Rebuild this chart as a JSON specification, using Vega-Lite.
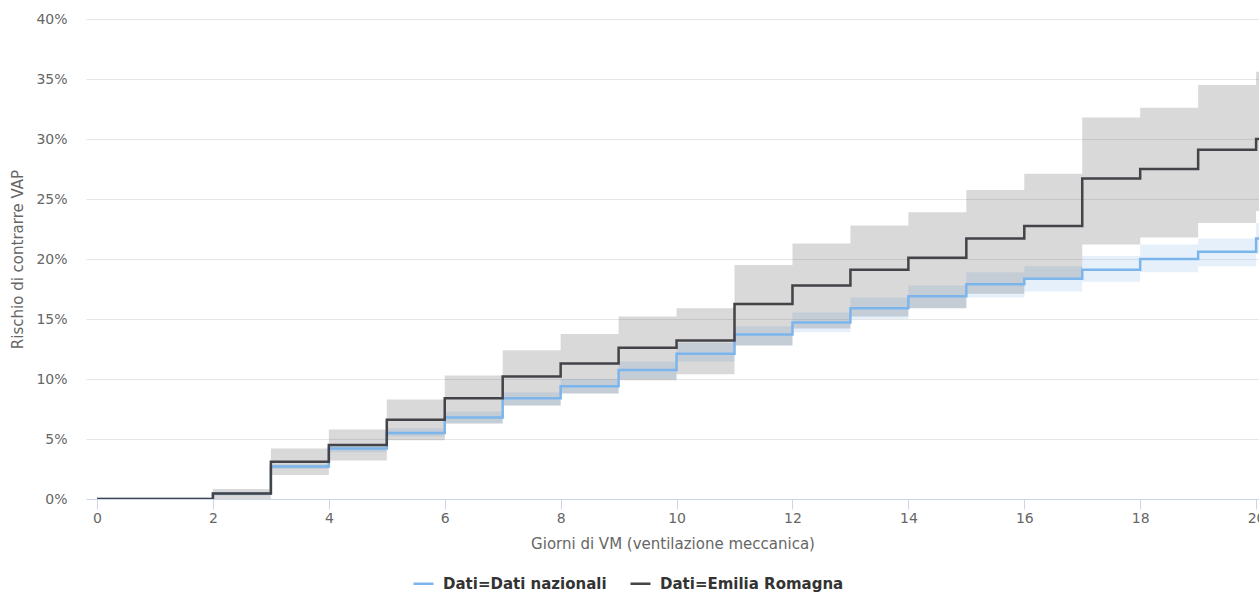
{
  "$schema": "https://vega.github.io/schema/vega-lite/v6.json",
  "width": 1173,
  "height": 480,
  "autosize": {"type": "none"},
  "padding": {"left": 86, "top": 19, "right": 0, "bottom": 94},
  "background": "white",
  "config": {
    "font": "DejaVu Sans",
    "view": {"stroke": null},
    "axis": {"labelFont": "DejaVu Sans", "titleFont": "DejaVu Sans", "labelColor": "#666666", "titleColor": "#666666", "labelFontSize": 14, "titleFontSize": 15, "titleFontWeight": "normal"}
  },
  "data": {"values": [
    {"Dati": "Dati nazionali", "giorno": 0, "rischio": 0, "lo": 0, "hi": 0},
    {"Dati": "Dati nazionali", "giorno": 1, "rischio": 0, "lo": 0, "hi": 0},
    {"Dati": "Dati nazionali", "giorno": 2, "rischio": 0.0045, "lo": 0.003, "hi": 0.006},
    {"Dati": "Dati nazionali", "giorno": 3, "rischio": 0.027, "lo": 0.025, "hi": 0.029},
    {"Dati": "Dati nazionali", "giorno": 4, "rischio": 0.042, "lo": 0.039, "hi": 0.045},
    {"Dati": "Dati nazionali", "giorno": 5, "rischio": 0.055, "lo": 0.052, "hi": 0.059},
    {"Dati": "Dati nazionali", "giorno": 6, "rischio": 0.068, "lo": 0.063, "hi": 0.073},
    {"Dati": "Dati nazionali", "giorno": 7, "rischio": 0.084, "lo": 0.078, "hi": 0.089},
    {"Dati": "Dati nazionali", "giorno": 8, "rischio": 0.094, "lo": 0.088, "hi": 0.100},
    {"Dati": "Dati nazionali", "giorno": 9, "rischio": 0.1075, "lo": 0.100, "hi": 0.1145},
    {"Dati": "Dati nazionali", "giorno": 10, "rischio": 0.121, "lo": 0.1145, "hi": 0.130},
    {"Dati": "Dati nazionali", "giorno": 11, "rischio": 0.137, "lo": 0.128, "hi": 0.144},
    {"Dati": "Dati nazionali", "giorno": 12, "rischio": 0.147, "lo": 0.139, "hi": 0.1555},
    {"Dati": "Dati nazionali", "giorno": 13, "rischio": 0.159, "lo": 0.150, "hi": 0.168},
    {"Dati": "Dati nazionali", "giorno": 14, "rischio": 0.169, "lo": 0.159, "hi": 0.178},
    {"Dati": "Dati nazionali", "giorno": 15, "rischio": 0.179, "lo": 0.168, "hi": 0.189},
    {"Dati": "Dati nazionali", "giorno": 16, "rischio": 0.1835, "lo": 0.173, "hi": 0.194},
    {"Dati": "Dati nazionali", "giorno": 17, "rischio": 0.191, "lo": 0.181, "hi": 0.2025},
    {"Dati": "Dati nazionali", "giorno": 18, "rischio": 0.200, "lo": 0.189, "hi": 0.212},
    {"Dati": "Dati nazionali", "giorno": 19, "rischio": 0.206, "lo": 0.194, "hi": 0.217},
    {"Dati": "Dati nazionali", "giorno": 20, "rischio": 0.217, "lo": 0.204, "hi": 0.230},
    {"Dati": "Dati nazionali", "giorno": 21, "rischio": 0.217, "lo": 0.204, "hi": 0.230},
    {"Dati": "Emilia Romagna", "giorno": 0, "rischio": 0, "lo": 0, "hi": 0},
    {"Dati": "Emilia Romagna", "giorno": 1, "rischio": 0, "lo": 0, "hi": 0},
    {"Dati": "Emilia Romagna", "giorno": 2, "rischio": 0.0045, "lo": 0, "hi": 0.0083},
    {"Dati": "Emilia Romagna", "giorno": 3, "rischio": 0.031, "lo": 0.020, "hi": 0.042},
    {"Dati": "Emilia Romagna", "giorno": 4, "rischio": 0.045, "lo": 0.032, "hi": 0.058},
    {"Dati": "Emilia Romagna", "giorno": 5, "rischio": 0.066, "lo": 0.049, "hi": 0.083},
    {"Dati": "Emilia Romagna", "giorno": 6, "rischio": 0.084, "lo": 0.063, "hi": 0.103},
    {"Dati": "Emilia Romagna", "giorno": 7, "rischio": 0.102, "lo": 0.078, "hi": 0.124},
    {"Dati": "Emilia Romagna", "giorno": 8, "rischio": 0.113, "lo": 0.088, "hi": 0.1375},
    {"Dati": "Emilia Romagna", "giorno": 9, "rischio": 0.126, "lo": 0.099, "hi": 0.152},
    {"Dati": "Emilia Romagna", "giorno": 10, "rischio": 0.132, "lo": 0.104, "hi": 0.159},
    {"Dati": "Emilia Romagna", "giorno": 11, "rischio": 0.1625, "lo": 0.128, "hi": 0.195},
    {"Dati": "Emilia Romagna", "giorno": 12, "rischio": 0.178, "lo": 0.142, "hi": 0.213},
    {"Dati": "Emilia Romagna", "giorno": 13, "rischio": 0.191, "lo": 0.152, "hi": 0.228},
    {"Dati": "Emilia Romagna", "giorno": 14, "rischio": 0.201, "lo": 0.159, "hi": 0.239},
    {"Dati": "Emilia Romagna", "giorno": 15, "rischio": 0.217, "lo": 0.171, "hi": 0.2575},
    {"Dati": "Emilia Romagna", "giorno": 16, "rischio": 0.2275, "lo": 0.183, "hi": 0.271},
    {"Dati": "Emilia Romagna", "giorno": 17, "rischio": 0.267, "lo": 0.212, "hi": 0.318},
    {"Dati": "Emilia Romagna", "giorno": 18, "rischio": 0.275, "lo": 0.218, "hi": 0.326},
    {"Dati": "Emilia Romagna", "giorno": 19, "rischio": 0.291, "lo": 0.230, "hi": 0.345},
    {"Dati": "Emilia Romagna", "giorno": 20, "rischio": 0.300, "lo": 0.240, "hi": 0.356},
    {"Dati": "Emilia Romagna", "giorno": 21, "rischio": 0.300, "lo": 0.240, "hi": 0.356}
  ]},
  "encoding": {
    "x": {
      "field": "giorno", "type": "quantitative",
      "scale": {"domain": [-0.19, 20.05], "nice": false, "zero": false},
      "axis": {
        "title": "Giorni di VM (ventilazione meccanica)",
        "values": [0, 2, 4, 6, 8, 10, 12, 14, 16, 18, 20],
        "grid": false,
        "domainColor": "#ccd6eb",
        "tickColor": "#ccd6eb",
        "tickSize": 10,
        "labelPadding": 2,
        "titlePadding": 11,
        "labelFlush": false
      }
    },
    "color": {
      "field": "Dati", "type": "nominal",
      "scale": {"domain": ["Dati nazionali", "Emilia Romagna"], "range": ["#7cb5ec", "#434348"]},
      "legend": {
        "title": null,
        "orient": "none",
        "direction": "horizontal",
        "legendX": 326,
        "legendY": 553,
        "symbolType": "stroke",
        "symbolStrokeWidth": 2.5,
        "symbolSize": 400,
        "symbolOpacity": 1,
        "labelExpr": "'Dati=' + datum.label",
        "labelFont": "DejaVu Sans",
        "labelFontSize": 15,
        "labelFontWeight": "bold",
        "labelColor": "#333333",
        "labelOffset": 8,
        "labelLimit": 500,
        "columnPadding": 18,
        "padding": 0
      }
    }
  },
  "layer": [
    {
      "mark": {"type": "area", "interpolate": "step-after", "opacity": 0.2, "clip": true},
      "encoding": {
        "y": {"field": "lo", "type": "quantitative"},
        "y2": {"field": "hi"}
      }
    },
    {
      "mark": {"type": "line", "interpolate": "step-after", "strokeWidth": 2.5, "clip": true},
      "encoding": {
        "y": {
          "field": "rischio", "type": "quantitative",
          "scale": {"domain": [0, 0.4], "nice": false},
          "axis": {
            "title": "Rischio di contrarre VAP",
            "format": ".0%",
            "values": [0, 0.05, 0.1, 0.15, 0.2, 0.25, 0.3, 0.35, 0.4],
            "domain": false,
            "ticks": false,
            "gridColor": "#e6e6e6",
            "labelPadding": 19,
            "titlePadding": 10
          }
        }
      }
    }
  ]
}
